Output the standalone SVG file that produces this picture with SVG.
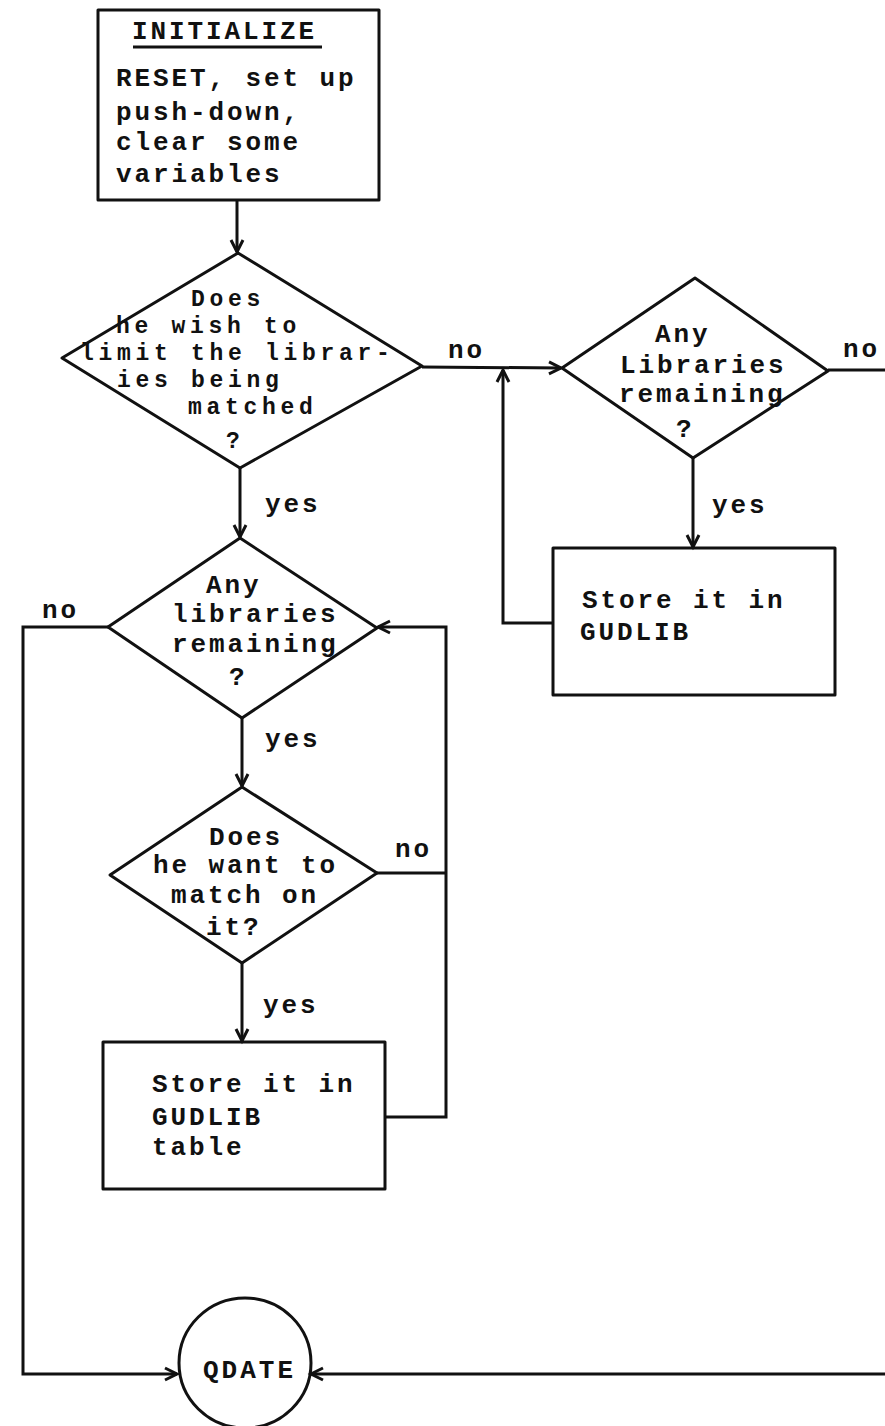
<svg xmlns="http://www.w3.org/2000/svg" width="885" height="1426" viewBox="0 0 885 1426">
<style>
.shape{fill:none;stroke:#111;stroke-width:3;stroke-linejoin:round}
.t{font-family:"Liberation Mono","DejaVu Sans Mono",monospace;font-weight:bold;font-size:26px;letter-spacing:2.9px;fill:#111}
.s{font-size:23px;letter-spacing:4.7px}
.conn{fill:none;stroke:#111;stroke-width:3}
</style>
<defs>
<marker id="arr" markerUnits="userSpaceOnUse" markerWidth="20" markerHeight="20" refX="13" refY="7" orient="auto" overflow="visible">
<path d="M1,1 L13,7 L1,13" fill="none" stroke="#111" stroke-width="3"/>
</marker>
</defs>
<rect width="885" height="1426" fill="#fff"/>

<g id="connectors">
<line class="conn" x1="237" y1="200" x2="237" y2="252" marker-end="url(#arr)"/>
<line class="conn" x1="240" y1="468" x2="240" y2="537" marker-end="url(#arr)"/>
<line class="conn" x1="422" y1="367" x2="561" y2="368" marker-end="url(#arr)"/>
<line class="conn" x1="693" y1="458" x2="693" y2="547" marker-end="url(#arr)"/>
<line class="conn" x1="828" y1="370" x2="885" y2="370"/>
<polyline class="conn" points="553,623 503,623 503,370" marker-end="url(#arr)"/>
<polyline class="conn" points="108,627 23,627 23,1374 177,1374" marker-end="url(#arr)"/>
<line class="conn" x1="242" y1="718" x2="242" y2="786" marker-end="url(#arr)"/>
<line class="conn" x1="377" y1="873" x2="446" y2="873"/>
<polyline class="conn" points="385,1117 446,1117 446,627 378,627" marker-end="url(#arr)"/>
<line class="conn" x1="242" y1="963" x2="242" y2="1041" marker-end="url(#arr)"/>
<line class="conn" x1="885" y1="1374" x2="311" y2="1374" marker-end="url(#arr)"/>
<text class="t" x="448" y="358">no</text>
<text class="t" x="843" y="357">no</text>
<text class="t" x="265" y="512">yes</text>
<text class="t" x="712" y="513">yes</text>
<text class="t" x="42" y="618">no</text>
<text class="t" x="265" y="747">yes</text>
<text class="t" x="395" y="857">no</text>
<text class="t" x="263" y="1013">yes</text>
</g>

<g id="initialize">
<rect class="shape" x="98" y="10" width="281" height="190"/>
<text class="t" x="132" y="39">INITIALIZE</text>
<line x1="133" y1="47" x2="322" y2="47" stroke="#111" stroke-width="3"/>
<text class="t" x="116" y="86">RESET, set up</text>
<text class="t" x="116" y="120">push-down,</text>
<text class="t" x="116" y="150">clear some</text>
<text class="t" x="116" y="182">variables</text>
</g>

<g id="limit-decision">
<polygon class="shape" points="238,253 422,366 240,468 62,358"/>
<text class="t s" x="191" y="306">Does</text>
<text class="t s" x="116" y="333">he wish to</text>
<text class="t s" x="80" y="360">limit the librar-</text>
<text class="t s" x="117" y="387">ies being</text>
<text class="t s" x="188" y="414">matched</text>
<text class="t s" x="226" y="448">?</text>
</g>

<g id="any-libraries-right">
<polygon class="shape" points="695,278 828,371 693,458 562,368"/>
<text class="t" x="655" y="342">Any</text>
<text class="t" x="620" y="373">Libraries</text>
<text class="t" x="619" y="402">remaining</text>
<text class="t" x="676" y="437">?</text>
</g>

<g id="store-gudlib-right">
<rect class="shape" x="553" y="548" width="282" height="147"/>
<text class="t" x="582" y="608">Store it in</text>
<text class="t" x="580" y="640">GUDLIB</text>
</g>

<g id="any-libraries-left">
<polygon class="shape" points="240,538 377,628 242,718 108,627"/>
<text class="t" x="206" y="593">Any</text>
<text class="t" x="172" y="622">libraries</text>
<text class="t" x="172" y="652">remaining</text>
<text class="t" x="229" y="685">?</text>
</g>

<g id="match-decision">
<polygon class="shape" points="242,787 377,873 242,963 110,875"/>
<text class="t" x="209" y="845">Does</text>
<text class="t" x="153" y="873">he want to</text>
<text class="t" x="171" y="903">match on</text>
<text class="t" x="206" y="935">it?</text>
</g>

<g id="store-gudlib-table">
<rect class="shape" x="103" y="1042" width="282" height="147"/>
<text class="t" x="152" y="1092">Store it in</text>
<text class="t" x="152" y="1125">GUDLIB</text>
<text class="t" x="152" y="1155">table</text>
</g>

<g id="qdate">
<ellipse class="shape" cx="245" cy="1363" rx="66" ry="65"/>
<text class="t" x="203" y="1378" style="letter-spacing:3px">QDATE</text>
</g>
</svg>
